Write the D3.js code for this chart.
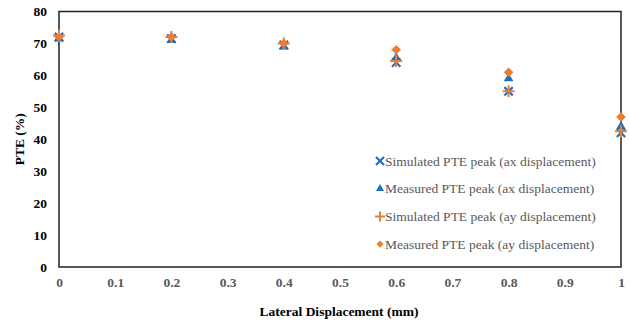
<!DOCTYPE html>
<html>
<head>
<meta charset="utf-8">
<script src="https://cdn.jsdelivr.net/npm/d3@7"></script>
<style>
  html, body { margin: 0; padding: 0; background: #fff; }
  svg, svg text { font-family: "Times New Roman", "Liberation Serif", "DejaVu Serif", serif !important; }
</style>
</head>
<body>
<svg id="chart" width="630" height="326"></svg>
<script>
// Lateral displacement (mm) and PTE peak values (%)
const displacement = [0, 0.2, 0.4, 0.6, 0.8, 1];
const simAx  = [72, 71.5, 69.5, 64, 55, 42];
const measAx = [71.5, 71, 69, 65.5, 59, 44];
const simAy  = [72.5, 72, 70, 64.5, 55, 42.5];
const measAy = [72, 72, 70, 68, 61, 47];

const xTicks = [0, 0.1, 0.2, 0.3, 0.4, 0.5, 0.6, 0.7, 0.8, 0.9, 1];
const yTicks = [0, 10, 20, 30, 40, 50, 60, 70, 80];

const seriesNames = [
  "Simulated PTE peak (ax displacement)",
  "Measured PTE peak (ax displacement)",
  "Simulated PTE peak (ay displacement)",
  "Measured PTE peak (ay displacement)"
];

const BLUE = "#1f6fc0";
const ORANGE = "#ed7d31";

const svg = d3.select("#chart");
const m = { left: 59, right: 621, top: 11.5, bottom: 267 };

const x = d3.scaleLinear().domain([0, 1]).range([m.left, m.right]);
const y = d3.scaleLinear().domain([0, 80]).range([m.bottom, m.top]);

// Axes: labels only, no tick marks
const xAxis = svg.append("g")
  .attr("transform", `translate(0,${m.bottom})`)
  .call(d3.axisBottom(x).tickValues(xTicks).tickSize(0).tickPadding(10)
    .tickFormat(d => d3.format("~g")(d)));
xAxis.attr("font-family", null);
xAxis.select(".domain").remove();
xAxis.selectAll("text")
  .attr("fill", "#595959").attr("font-weight", "bold")
  .attr("font-size", 13.5);

const yAxis = svg.append("g")
  .attr("transform", `translate(${m.left},0)`)
  .call(d3.axisLeft(y).tickValues(yTicks).tickSize(0).tickPadding(12));
yAxis.attr("font-family", null);
yAxis.select(".domain").remove();
yAxis.selectAll("text")
  .attr("fill", "#000").attr("font-weight", "bold")
  .attr("font-size", 13.5);

// Plot frame
svg.append("rect")
  .attr("x", m.left).attr("y", m.top)
  .attr("width", m.right - m.left).attr("height", m.bottom - m.top)
  .attr("fill", "none").attr("stroke", "#222").attr("stroke-width", 1.5);

// Axis titles
svg.append("text")
  .attr("x", (m.left + m.right) / 2 - 1).attr("y", 316)
  .attr("text-anchor", "middle").attr("font-weight", "bold").attr("font-size", 13.5)
  .text("Lateral Displacement (mm)");

svg.append("text")
  .attr("transform", `translate(24,${(m.top + m.bottom) / 2}) rotate(-90)`)
  .attr("text-anchor", "middle").attr("font-weight", "bold").attr("font-size", 13.5)
  .text("PTE (%)");

// Marker drawing helpers
const markers = {
  cross: (g, s) => g.append("path")
    .attr("d", `M${-s},${-s}L${s},${s}M${-s},${s}L${s},${-s}`)
    .attr("stroke", BLUE).attr("stroke-width", 2.2).attr("fill", "none"),
  triangle: (g, s) => g.append("path")
    .attr("d", d3.symbol(d3.symbolTriangle, s * s * 1.6)())
    .attr("fill", BLUE),
  plus: (g, s) => g.append("path")
    .attr("d", `M${-s},0L${s},0M0,${-s}L0,${s}`)
    .attr("stroke", ORANGE).attr("stroke-width", 2).attr("fill", "none"),
  diamond: (g, s) => g.append("path")
    .attr("d", `M0,${-s}L${s},0L0,${s}L${-s},0Z`)
    .attr("fill", ORANGE)
};

const series = [
  { values: simAx,  kind: "cross",    size: 4.2 },
  { values: measAx, kind: "triangle", size: 5 },
  { values: simAy,  kind: "plus",     size: 6 },
  { values: measAy, kind: "diamond",  size: 4.8 }
];

series.forEach(sr => {
  const g = svg.append("g");
  sr.values.forEach((v, i) => {
    const p = g.append("g")
      .attr("transform", `translate(${x(displacement[i])},${y(v)})`);
    markers[sr.kind](p, sr.size);
  });
});

// Legend
const legendSize = { cross: 4, triangle: 4.2, plus: 5, diamond: 3.6 };
const legend = svg.append("g").attr("transform", "translate(380,161)");
series.forEach((sr, i) => {
  const row = legend.append("g").attr("transform", `translate(0,${i * 27.7})`);
  markers[sr.kind](row.append("g"), legendSize[sr.kind]);
  row.append("text")
    .attr("x", 5).attr("y", 4.5)
    .attr("font-size", 13.5).attr("fill", "#595959")
    .text(seriesNames[i]);
});
</script>
</body>
</html>
